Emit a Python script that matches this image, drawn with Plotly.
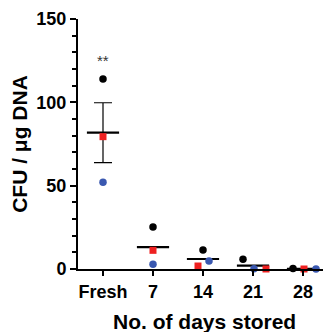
import numpy as np
import plotly.graph_objects as go

categories = ["Fresh", "7", "14", "21", "28"]
black_vals = [114, 25.2, 11.4, 5.8, 0.3]
red_vals = [79.4, 11.2, 1.8, 0.0, 0.0]
blue_vals = [52, 2.8, 4.8, 0.2, 0.0]
# horizontal scatter offsets (style, category units)
black_off = [0, 0, 0, -0.2, -0.2]
red_off = [0, 0, -0.1, 0.26, 0.02]
blue_off = [0, 0, 0.12, 0.02, 0.26]
y_ticks = [0, 50, 100, 150]

FONT = "Liberation Sans, Arial, sans-serif"
idx = np.arange(len(categories))
data = np.array([black_vals, red_vals, blue_vals])
means = data.mean(axis=0)
sem = data.std(axis=0, ddof=1) / np.sqrt(data.shape[0])

fig = go.Figure()
# mean lines
fig.add_trace(go.Scatter(x=idx, y=means, mode="markers", cliponaxis=False,
                         marker=dict(symbol="line-ew-open", size=23, color="black",
                                     line=dict(width=2.2, color="black")),
                         hoverinfo="skip"))
# error bar for Fresh only
fig.add_trace(go.Scatter(x=idx[:1], y=means[:1], mode="markers",
                         marker=dict(size=0.1, color="rgba(0,0,0,0)"),
                         error_y=dict(type="data", array=sem[:1], visible=True,
                                      color="black", thickness=1.2, width=9)))
fig.add_trace(go.Scatter(x=idx + np.array(red_off), y=red_vals, mode="markers", cliponaxis=False,
                         marker=dict(symbol="square", size=7, color="#ee2020")))
fig.add_trace(go.Scatter(x=idx + np.array(blue_off), y=blue_vals, mode="markers", cliponaxis=False,
                         marker=dict(symbol="circle", size=7.5, color="#3a58b0")))
fig.add_trace(go.Scatter(x=idx + np.array(black_off), y=black_vals, mode="markers", cliponaxis=False,
                         marker=dict(symbol="circle", size=7.5, color="black")))

fig.add_annotation(x=0, y=125, text="**", showarrow=False, xref="x", yref="y",
                   font=dict(family=FONT, size=15, color="#333333"))
# x-axis title (placed as annotation so it can sit at the very bottom edge)
fig.add_annotation(x=0.5, y=0, xref="paper", yref="paper", yanchor="top", yshift=-39,
                   text="<b>No. of days stored</b>", showarrow=False,
                   font=dict(family=FONT, size=21, color="black"))

fig.update_layout(
    width=323, height=324,
    margin=dict(l=70, r=0, t=11, b=63),
    plot_bgcolor="white", paper_bgcolor="white",
    showlegend=False,
    font=dict(family=FONT, color="black"),
)
fig.update_xaxes(range=[-0.5, 4.56], tickvals=list(idx), ticktext=categories,
                 showgrid=False, zeroline=False, showline=True, linecolor="black", linewidth=2,
                 ticks="outside", ticklen=5, tickwidth=2, tickcolor="black",
                 tickfont=dict(family=FONT, size=18, color="black", weight="bold"))
fig.update_yaxes(range=[0, 150], tickvals=y_ticks,
                 showgrid=False, zeroline=False, showline=True, linecolor="black", linewidth=2,
                 ticks="outside", ticklen=6, tickwidth=2, tickcolor="black",
                 minor=dict(dtick=10, ticks="outside", ticklen=4, tickwidth=1.5, tickcolor="black"),
                 tickfont=dict(family=FONT, size=18, color="black", weight="bold"),
                 title=dict(text="<b>CFU / μg DNA</b>", standoff=9,
                            font=dict(family=FONT, size=21, color="black")))

fig.write_html("out.html")
